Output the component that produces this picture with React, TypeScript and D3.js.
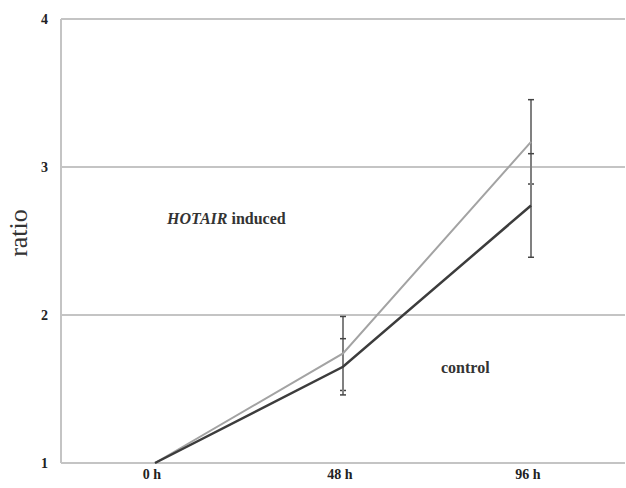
import React, { useEffect, useRef } from 'react'
import * as d3 from 'd3'

const timepoints = ['0 h', '48 h', '96 h']
const inducedMeans = [1.0, 1.74, 3.17]
const inducedErrors = [0, 0.25, 0.285]
const controlMeans = [1.0, 1.65, 2.74]
const controlErrors = [0, 0.19, 0.35]
const yTicks = [1, 2, 3, 4]

const FONT = "'Liberation Serif', 'Times New Roman', serif"

const App: React.FC = () => {
    const svgRef = useRef<SVGSVGElement | null>(null)

    useEffect(() => {
        if (!svgRef.current) return
        const width = 626
        const height = 488
        const margin = { top: 19, right: 1, bottom: 25, left: 61 }

        const svg = d3.select(svgRef.current)
        svg.selectAll('*').remove()

        const x = d3
            .scaleBand<string>()
            .domain(timepoints)
            .range([margin.left, width - margin.right])
        const y = d3
            .scaleLinear()
            .domain([1, 4])
            .range([height - margin.bottom, margin.top])
        const cx = (d: string) => (x(d) || 0) + x.bandwidth() / 2

        // gridlines
        svg.append('g')
            .selectAll('line')
            .data(yTicks)
            .join('line')
            .attr('x1', margin.left)
            .attr('x2', width - margin.right)
            .attr('y1', (d) => y(d))
            .attr('y2', (d) => y(d))
            .attr('stroke', '#c4c4c4')
            .attr('stroke-width', 2)

        // y axis line
        svg.append('line')
            .attr('x1', margin.left)
            .attr('x2', margin.left)
            .attr('y1', y(4))
            .attr('y2', y(1))
            .attr('stroke', '#c4c4c4')
            .attr('stroke-width', 2)

        // y tick labels
        svg.append('g')
            .selectAll('text')
            .data(yTicks)
            .join('text')
            .attr('x', 48)
            .attr('y', (d) => y(d) + 5)
            .attr('text-anchor', 'end')
            .style('font-family', FONT)
            .style('font-weight', 'bold')
            .style('font-size', '14px')
            .attr('fill', '#222')
            .text((d) => d)

        // x tick labels
        svg.append('g')
            .selectAll('text')
            .data(timepoints)
            .join('text')
            .attr('x', (d) => cx(d) - 3)
            .attr('y', 479)
            .attr('text-anchor', 'middle')
            .style('font-family', FONT)
            .style('font-weight', 'bold')
            .style('font-size', '14px')
            .attr('fill', '#222')
            .text((d) => d)

        // y axis title
        svg.append('text')
            .attr('transform', 'translate(27,233) rotate(-90)')
            .attr('text-anchor', 'middle')
            .style('font-family', FONT)
            .style('font-size', '26px')
            .attr('fill', '#333')
            .text('ratio')

        // error bars
        const drawErrors = (means: number[], errs: number[]) => {
            const g = svg.append('g').attr('stroke', '#808080')
            timepoints.forEach((t, i) => {
                if (!errs[i]) return
                const px = cx(t)
                g.append('line')
                    .attr('x1', px)
                    .attr('x2', px)
                    .attr('y1', y(means[i] + errs[i]))
                    .attr('y2', y(means[i] - errs[i]))
                    .attr('stroke-width', 2)
                ;[means[i] + errs[i], means[i] - errs[i]].forEach((v) => {
                    g.append('line')
                        .attr('x1', px - 3)
                        .attr('x2', px + 3)
                        .attr('y1', y(v))
                        .attr('y2', y(v))
                        .attr('stroke', '#444')
                        .attr('stroke-width', 1.5)
                })
            })
        }
        drawErrors(inducedMeans, inducedErrors)
        drawErrors(controlMeans, controlErrors)

        const line = d3
            .line<number>()
            .x((_, i) => cx(timepoints[i]))
            .y((d) => y(d))

        svg.append('path')
            .datum(inducedMeans)
            .attr('d', line)
            .attr('fill', 'none')
            .attr('stroke', '#a3a3a3')
            .attr('stroke-width', 2)

        svg.append('path')
            .datum(controlMeans)
            .attr('d', line)
            .attr('fill', 'none')
            .attr('stroke', '#3c3c3c')
            .attr('stroke-width', 2.5)

        // series labels
        const lbl = svg
            .append('text')
            .attr('x', 167)
            .attr('y', 224)
            .style('font-family', FONT)
            .style('font-size', '16px')
            .style('font-weight', 'bold')
            .attr('fill', '#333')
        lbl.append('tspan').style('font-style', 'italic').text('HOTAIR')
        lbl.append('tspan').text(' induced')

        svg.append('text')
            .attr('x', 441)
            .attr('y', 373)
            .style('font-family', FONT)
            .style('font-size', '16px')
            .style('font-weight', 'bold')
            .attr('fill', '#333')
            .text('control')
    }, [])

    return (
        <svg
            ref={svgRef}
            width={626}
            height={488}
            style={{ position: 'absolute', left: 0, top: 0, background: '#fff' }}
        ></svg>
    )
}

export default App
